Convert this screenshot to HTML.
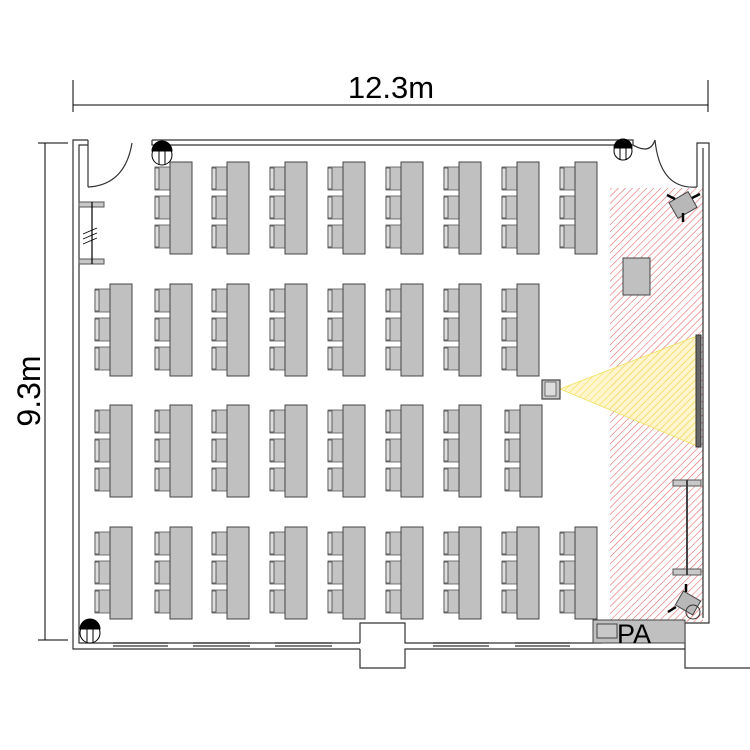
<!DOCTYPE html>
<html><head><meta charset="utf-8"><style>html,body{margin:0;padding:0;background:#fff}svg{display:block}</style></head>
<body>
<svg width="750" height="750" viewBox="0 0 750 750" xmlns="http://www.w3.org/2000/svg">
<defs>
<pattern id="h" patternUnits="userSpaceOnUse" width="5" height="5" patternTransform="rotate(45)">
<line x1="0" y1="0" x2="0" y2="5" stroke="#e06060" stroke-width="1.1"/></pattern>
<pattern id="y" patternUnits="userSpaceOnUse" width="5" height="5" patternTransform="rotate(45)">
<rect width="5" height="5" fill="#fff0b0" fill-opacity="0.6"/>
<line x1="0" y1="0" x2="0" y2="5" stroke="#f5e050" stroke-width="1.2"/></pattern>
<g id="ch">
<rect x="0" y="0" width="15" height="23" fill="#c4c4c4" stroke="#555" stroke-width="0.8"/>
<rect x="0" y="1" width="4" height="21" fill="#ddd" stroke="#444" stroke-width="0.8"/>
</g>
<g id="d">
<use href="#ch" x="0" y="5"/><use href="#ch" x="0" y="34"/><use href="#ch" x="0" y="63"/>
<rect x="15" y="0" width="22" height="92" fill="#c0c0c0" stroke="#444" stroke-width="1"/>
</g>
</defs>

<g stroke="#000" stroke-width="1" fill="none">
<line x1="73" y1="105" x2="708" y2="105"/>
<line x1="73" y1="80" x2="73" y2="112"/><line x1="708" y1="80" x2="708" y2="112"/>
<line x1="45" y1="143" x2="45" y2="640"/>
<line x1="38" y1="143" x2="68" y2="143"/><line x1="38" y1="640" x2="68" y2="640"/>
</g>
<text x="391" y="98" font-family="Liberation Sans, sans-serif" font-size="31" text-anchor="middle">12.3m</text>
<text transform="translate(40,391) rotate(-90)" font-family="Liberation Sans, sans-serif" font-size="32" text-anchor="middle">9.3m</text>

<rect x="610" y="188" width="93" height="434" fill="url(#h)"/>

<g stroke="#333" stroke-width="1.2" fill="none">
<polyline points="88,140 73,140 73,649 360,649"/>
<polyline points="88,145 79,145 79,643 360,643"/>
<polyline points="152,140 633,140 633,145 152,145 152,140"/>
<polyline points="88,140 88,187"/>
<path d="M88,187 Q125,185 132,143"/>
<path d="M633,145 Q650,155 655,140"/>
<path d="M655,140 Q660,190 697,187"/>
<polyline points="697,187 697,143 709,143 709,623 685,623 685,668 750,668"/>
<polyline points="703,148 703,618"/>
<polyline points="360,649 360,668 405,668 405,649 685,649"/>
<polyline points="360,643 360,623 405,623 405,643 602,643"/>
<line x1="113" y1="643" x2="168" y2="643"/><line x1="113" y1="646" x2="168" y2="646"/>
<line x1="193" y1="643" x2="250" y2="643"/><line x1="193" y1="646" x2="250" y2="646"/>
<line x1="275" y1="643" x2="332" y2="643"/><line x1="275" y1="646" x2="332" y2="646"/>
<line x1="433" y1="643" x2="489" y2="643"/><line x1="433" y1="646" x2="489" y2="646"/>
<line x1="515" y1="643" x2="570" y2="643"/><line x1="515" y1="646" x2="570" y2="646"/>
</g>

<rect x="79" y="202" width="25" height="5" fill="#c8c8c8" stroke="#555"/>
<rect x="79" y="259" width="25" height="5" fill="#c8c8c8" stroke="#555"/>
<line x1="92" y1="202" x2="92" y2="264" stroke="#000" stroke-width="1.2"/>
<g stroke="#000" stroke-width="0.8"><line x1="83" y1="234" x2="97" y2="228"/><line x1="83" y1="239" x2="97" y2="233"/><line x1="83" y1="244" x2="97" y2="238"/></g>

<g stroke="#000" stroke-width="1" fill="#fff">
<circle cx="162" cy="155" r="10"/><path d="M152,151 A10,10 0 0 1 172,151 Z" fill="#000"/>
<line x1="159" y1="151" x2="159" y2="165"/><line x1="165" y1="151" x2="165" y2="165"/>
<circle cx="623" cy="151" r="9"/><path d="M614,148 A9,9 0 0 1 632,148 Z" fill="#000"/>
<line x1="620" y1="148" x2="620" y2="160"/><line x1="626" y1="148" x2="626" y2="160"/>
<circle cx="90" cy="633" r="10"/><path d="M80,629 A10,10 0 0 1 100,629 Z" fill="#000"/>
<line x1="87" y1="629" x2="87" y2="643"/><line x1="93" y1="629" x2="93" y2="643"/>
</g>

<use href="#d" x="155" y="162"/><use href="#d" x="212" y="162"/><use href="#d" x="270" y="162"/><use href="#d" x="328" y="162"/>
<use href="#d" x="386" y="162"/><use href="#d" x="444" y="162"/><use href="#d" x="502" y="162"/><use href="#d" x="560" y="162"/>

<use href="#d" x="95" y="284"/><use href="#d" x="155" y="284"/><use href="#d" x="212" y="284"/><use href="#d" x="270" y="284"/>
<use href="#d" x="328" y="284"/><use href="#d" x="386" y="284"/><use href="#d" x="444" y="284"/><use href="#d" x="502" y="284"/>

<use href="#d" x="95" y="405"/><use href="#d" x="155" y="405"/><use href="#d" x="212" y="405"/><use href="#d" x="270" y="405"/>
<use href="#d" x="328" y="405"/><use href="#d" x="386" y="405"/><use href="#d" x="444" y="405"/><use href="#d" x="505" y="405"/>

<use href="#d" x="95" y="527"/><use href="#d" x="155" y="527"/><use href="#d" x="212" y="527"/><use href="#d" x="270" y="527"/>
<use href="#d" x="328" y="527"/><use href="#d" x="386" y="527"/><use href="#d" x="444" y="527"/><use href="#d" x="502" y="527"/><use href="#d" x="560" y="527"/>

<polygon points="560,389 697,336 697,446" fill="url(#y)" stroke="#f0e060" stroke-width="0.8"/>
<rect x="542" y="380" width="18" height="19" fill="#c8c8c8" stroke="#444" stroke-width="1.2"/>
<rect x="545" y="382" width="11" height="14" fill="#ddd" stroke="#444" stroke-width="0.7"/>
<rect x="696" y="335" width="5" height="112" fill="#666" stroke="#333"/>
<rect x="623" y="258" width="27" height="37" fill="#c0c0c0" stroke="#444"/>
<g transform="translate(683,205) rotate(-30)">
<rect x="-11" y="-9" width="22" height="18" fill="#b8b8b8" stroke="#444"/>
</g>
<g stroke="#000" stroke-width="2.5"><line x1="667" y1="195" x2="675" y2="199"/><line x1="692" y1="198" x2="700" y2="194"/><line x1="683" y1="213" x2="683" y2="222"/></g>
<rect x="673" y="480" width="28" height="6" fill="#c8c8c8" stroke="#555"/>
<rect x="673" y="569" width="28" height="6" fill="#c8c8c8" stroke="#555"/>
<line x1="687" y1="480" x2="687" y2="575" stroke="#444" stroke-width="2"/>
<g transform="translate(688,603) rotate(30)"><rect x="-10" y="-8" width="20" height="16" fill="#b8b8b8" stroke="#444"/></g>
<g stroke="#000" stroke-width="2.5"><line x1="686" y1="584" x2="686" y2="592"/><line x1="668" y1="612" x2="676" y2="607"/></g>
<circle cx="693" cy="612" r="7" fill="none" stroke="#333"/>
<rect x="593" y="620" width="92" height="23" fill="#c0c0c0" stroke="#444"/>
<rect x="597" y="624" width="20" height="14" fill="#c8c8c8" stroke="#444"/>
<text x="617" y="643" font-family="Liberation Sans, sans-serif" font-size="27">PA</text>
</svg>
</body></html>
